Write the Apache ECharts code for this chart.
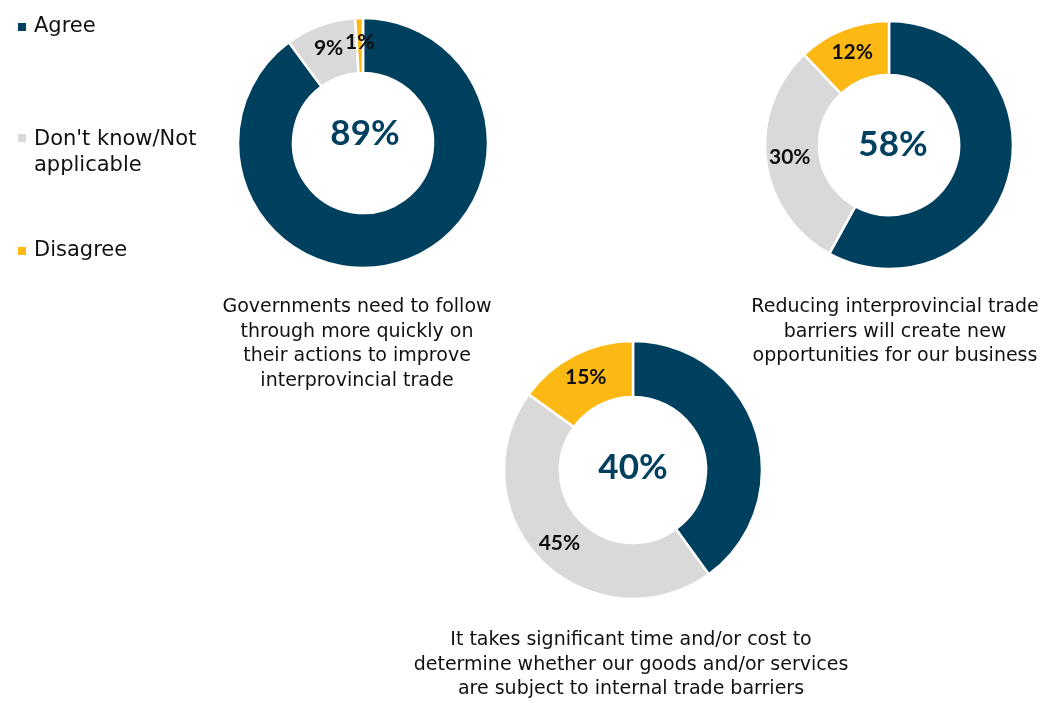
<!DOCTYPE html>
<html>
<head>
<meta charset="utf-8">
<script src="https://cdn.jsdelivr.net/npm/echarts@6/dist/echarts.min.js"></script>
<style>
  html, body { margin: 0; padding: 0; background: #ffffff; }
  #chart { width: 1043px; height: 703px; }
</style>
</head>
<body>
<div id="chart"></div>
<script>
// Response categories (legend order, also slice order clockwise from 12 o'clock)
const categories = ['Agree', "Don't know/Not\napplicable", 'Disagree'];
const colors = ['#00405F', '#D9D9D9', '#FDB913'];

// Share of respondents (%) per statement
const agreeVals    = [89, 58, 40];
const dontKnowVals = [9, 30, 45];
const disagreeVals = [1, 12, 15];

const statements = [
  'Governments need to follow\nthrough more quickly on\ntheir actions to improve\ninterprovincial trade',
  'Reducing interprovincial trade\nbarriers will create new\nopportunities for our business',
  'It takes significant time and/or cost to\ndetermine whether our goods and/or services\nare subject to internal trade barriers'
];

// Donut placement: centre, [inner r, outer r], headline nudge, caption anchor
const donuts = [
  { c: [363, 143], r: [70, 125], nudge: [2, -9], cap: [357, 295] },
  { c: [889, 145], r: [70, 124], nudge: [4, 0],  cap: [895, 295] },
  { c: [633, 470], r: [73, 129], nudge: [0, -2], cap: [631, 628] }
];

const numFont = 'Lato, "Open Sans", sans-serif';
const textFont = '"DejaVu Sans", sans-serif';

const series = [];
donuts.forEach((d, i) => {
  const vals = [agreeVals[i], dontKnowVals[i], disagreeVals[i]];
  series.push({
    type: 'pie',
    center: d.c,
    radius: d.r,
    startAngle: 90,
    clockwise: true,
    silent: true,
    avoidLabelOverlap: false,
    itemStyle: { borderColor: '#ffffff', borderWidth: 2.5 },
    label: {
      show: true,
      position: 'inside',
      formatter: p => p.dataIndex === 0 ? '' : p.value + '%',
      color: '#0d0d0d',
      fontFamily: numFont,
      fontWeight: 'bold',
      fontSize: 21
    },
    labelLine: { show: false },
    data: categories.map((name, k) => ({
      name,
      value: vals[k],
      itemStyle: { color: colors[k] }
    }))
  });
  // Headline "Agree" share in the donut hole
  series.push({
    type: 'pie',
    center: d.c,
    radius: [0, d.r[0] - 4],
    silent: true,
    legendHoverLink: false,
    label: {
      show: true,
      position: 'center',
      offset: d.nudge,
      formatter: () => agreeVals[i] + '%',
      color: colors[0],
      fontFamily: numFont,
      fontWeight: 'bold',
      fontSize: 35
    },
    labelLine: { show: false },
    itemStyle: { color: 'rgba(0,0,0,0)' },
    data: [{ name: 'centre' + i, value: agreeVals[i] }]
  });
});

// One legend per entry so each can sit at its own height.
// Icons are an 8px square plus an invisible corner point that widens the
// gap to the text; the two-line entry's icon is taller with the square at
// its top, so the marker lines up with the first text line.
const legendTops = [14, 127, 238];
const legendIcons = [
  'path://M0,0L8,0L8,8L0,8Z M10.99,7.99L11,7.99L11,8L10.99,8Z',
  'path://M0,0L8,0L8,8L0,8Z M10.99,37.99L11,37.99L11,38L10.99,38Z',
  'path://M0,0L8,0L8,8L0,8Z M10.99,7.99L11,7.99L11,8L10.99,8Z'
];
const legends = categories.map((name, k) => ({
  data: [name],
  orient: 'vertical',
  left: 18,
  top: legendTops[k],
  padding: 0,
  icon: legendIcons[k],
  itemWidth: 11,
  itemHeight: k === 1 ? 38 : 8,
  itemStyle: { borderWidth: 0 },
  selectedMode: false,
  textStyle: {
    fontFamily: textFont,
    fontSize: 21,
    color: '#111111',
    lineHeight: 26
  }
}));

const captions = donuts.map((d, i) => ({
  type: 'text',
  x: d.cap[0],
  y: d.cap[1],
  style: {
    text: statements[i],
    textAlign: 'center',
    textVerticalAlign: 'top',
    fill: '#111111',
    font: '19px ' + textFont,
    lineHeight: 24.5
  }
}));

const chart = echarts.init(document.getElementById('chart'), null, { renderer: 'canvas' });
chart.setOption({
  animation: false,
  backgroundColor: '#ffffff',
  legend: legends,
  series,
  graphic: captions
});
</script>
</body>
</html>
